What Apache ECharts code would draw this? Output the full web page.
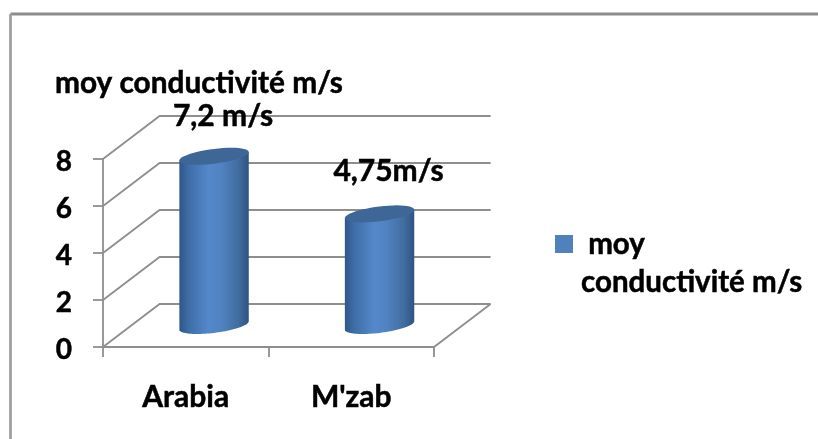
<!DOCTYPE html>
<html>
<head>
<meta charset="utf-8">
<style>
  html, body { margin: 0; padding: 0; background: #fff; }
  #chart { width: 818px; height: 439px; }
</style>
</head>
<body>
<div id="chart"></div>
<script src="https://cdn.jsdelivr.net/npm/echarts@6/dist/echarts.min.js"></script>
<script>
const categories = ['Arabia', "M'zab"]
const conductivite = [7.2, 4.75]
const valueLabels = ['7,2 m/s', '4,75m/s']
const yTicks = [0, 2, 4, 6, 8]
const serieName = 'moy conductivité m/s'

const fontName = 'Lato'
const lineColor = '#8e8e8e'
// décalage de la profondeur 3D, en pixels
const depthX = 56.6
const depthY = -43

// texte un peu plus gras que le bold de Lato
const textBase = {
  fontFamily: fontName,
  fontWeight: 'bold',
  color: '#000',
  textBorderColor: '#000',
  textBorderWidth: 0.5
}

const chart = echarts.init(document.getElementById('chart'))

// contour de la face supérieure ou inférieure du cylindre (ellipse penchée)
function ellipsePoints(cx, cy, from, to) {
  const a = 34.7
  const b = 7.4
  const skew = -4.2
  const pts = []
  for (let i = 0; i <= 48; i++) {
    const t = from + (to - from) * i / 48
    pts.push([cx + a * Math.cos(t), cy + b * Math.sin(t) + skew * Math.cos(t)])
  }
  return pts
}

function renderGrid(params, api) {
  const sys = params.coordSys
  const y = api.coord([0, api.value(0)])[1]
  const x0 = sys.x
  const x1 = sys.x + sys.width
  const points = [[x0, y], [x0 + depthX, y + depthY], [x1 + depthX, y + depthY]]
  const children = [{
    type: 'polyline',
    shape: { points: points },
    style: { fill: null, stroke: lineColor, lineWidth: 1.8 }
  }]
  // le plancher se referme sur l'axe de devant
  if (api.value(0) === 0) {
    children.push({
      type: 'polyline',
      shape: { points: [[x1 + depthX, y + depthY], [x1, y], [x0, y]] },
      style: { fill: null, stroke: lineColor, lineWidth: 1.8 }
    })
  }
  return { type: 'group', children: children }
}

function renderCylinder(params, api) {
  const base = api.coord([api.value(0), 0])
  const top = api.coord([api.value(0), api.value(1)])
  const cx = base[0] + depthX / 2
  const yBase = base[1] + depthY / 2
  const yTop = top[1] + depthY / 2
  const body = ellipsePoints(cx, yBase, 0, Math.PI)
    .concat(ellipsePoints(cx, yTop, Math.PI, Math.PI))
    .concat(ellipsePoints(cx, yTop, 0, 0))
  return {
    type: 'group',
    children: [
      {
        type: 'polygon',
        shape: { points: body },
        style: {
          fill: new echarts.graphic.LinearGradient(0, 0, 1, 0, [
            { offset: 0, color: '#2f5788' },
            { offset: 0.14, color: '#3f6ea8' },
            { offset: 0.42, color: '#5488ca' },
            { offset: 0.6, color: '#5183c2' },
            { offset: 0.85, color: '#416d9f' },
            { offset: 1, color: '#2f5281' }
          ])
        }
      },
      {
        type: 'polygon',
        shape: { points: ellipsePoints(cx, yTop, 0, Math.PI * 2) },
        style: { fill: '#3e6697' }
      },
      {
        type: 'text',
        style: {
          text: valueLabels[params.dataIndex],
          x: cx + 9,
          y: yTop - (params.dataIndex === 0 ? 40 : 43),
          align: 'center',
          verticalAlign: 'middle',
          fill: '#000',
          stroke: '#000',
          lineWidth: 0.5,
          font: 'bold 30px ' + fontName
        }
      }
    ]
  }
}

const option = {
  backgroundColor: '#fff',
  animation: false,
  title: {
    text: serieName,
    left: 50,
    top: 63,
    textStyle: { ...textBase, fontSize: 29.8 }
  },
  legend: {
    left: 555,
    top: 187,
    padding: 0,
    data: [serieName],
    icon: 'rect',
    itemWidth: 18,
    itemHeight: 18,
    itemStyle: { color: '#4f81bd' },
    formatter: () => '\n moy\nconductivité m/s',
    textStyle: { ...textBase, fontSize: 29.5, lineHeight: 38, padding: [0, 0, 0, 3] }
  },
  grid: { left: 103, top: 159, width: 331, height: 188 },
  xAxis: {
    type: 'category',
    data: categories,
    axisLine: { lineStyle: { color: lineColor, width: 1.8 } },
    axisTick: { show: true, length: 10, lineStyle: { color: lineColor, width: 1.8 } },
    axisLabel: { ...textBase, margin: 35, fontSize: 30 }
  },
  yAxis: {
    type: 'value',
    min: 0,
    max: 8,
    interval: 2,
    axisLine: { show: true, lineStyle: { color: lineColor, width: 1.8 } },
    axisTick: { show: true, length: 10, lineStyle: { color: lineColor, width: 1.8 } },
    splitLine: { show: false },
    axisLabel: {
      margin: 31,
      formatter: '{tick|{value}}',
      rich: { tick: { ...textBase, fontSize: 28, padding: [6, 0, 0, 0] } }
    }
  },
  graphic: [
    { type: 'line', shape: { x1: 10.5, y1: 14, x2: 818, y2: 14 }, style: { stroke: '#8c8c8c', lineWidth: 2.8 }, silent: true },
    { type: 'line', shape: { x1: 10.5, y1: 14, x2: 10.5, y2: 439 }, style: { stroke: '#a0a0a0', lineWidth: 2.8 }, silent: true }
  ],
  series: [
    {
      name: 'grille',
      type: 'custom',
      renderItem: renderGrid,
      data: yTicks.map(v => [v]),
      encode: { y: 0 },
      silent: true,
      z: 1
    },
    {
      name: serieName,
      type: 'custom',
      renderItem: renderCylinder,
      itemStyle: { color: '#4f81bd' },
      data: conductivite.map((v, i) => [i, v]),
      encode: { x: 0, y: 1 },
      z: 3
    }
  ]
}

chart.setOption(option)
</script>
</body>
</html>
